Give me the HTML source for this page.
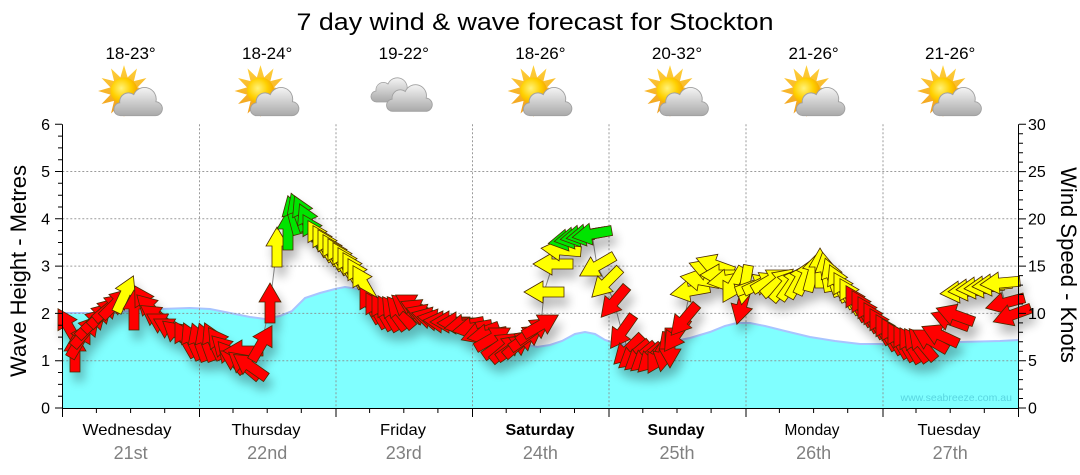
<!DOCTYPE html>
<html>
<head>
<meta charset="utf-8">
<style>
html,body{margin:0;padding:0;background:#fff;}
svg{display:block;font-family:"Liberation Sans",Arial,sans-serif;}
.r{fill:#ff0000;}
.y{fill:#ffff00;}
.g{fill:#00e400;}
</style>
</head>
<body>
<svg width="1080" height="475" viewBox="0 0 1080 475" xmlns="http://www.w3.org/2000/svg">
<defs>
  <polygon id="a" points="0,-20 11,-1 5,-1 5,20 -5,20 -5,-1 -11,-1"/>
  <radialGradient id="sunG" cx="0.4" cy="0.4" r="0.6">
    <stop offset="0" stop-color="#fff27a"/>
    <stop offset="0.6" stop-color="#ffd000"/>
    <stop offset="1" stop-color="#f5a800"/>
  </radialGradient>
  <linearGradient id="rayG" x1="0" y1="0" x2="0" y2="1">
    <stop offset="0" stop-color="#ffd23a"/>
    <stop offset="1" stop-color="#f09a1a"/>
  </linearGradient>
  <linearGradient id="cloudG" x1="0" y1="0" x2="0" y2="1">
    <stop offset="0" stop-color="#f4f4f4"/>
    <stop offset="1" stop-color="#a9a9a9"/>
  </linearGradient>
  <g id="sun">
    <polygon fill="url(#rayG)" points="0,-24 3.36,-12.56 12,-20.78 9.19,-9.19 20.78,-12 12.56,-3.36 24,0 12.56,3.36 20.78,12 9.19,9.19 12,20.78 3.36,12.56 0,24 -3.36,12.56 -12,20.78 -9.19,9.19 -20.78,12 -12.56,3.36 -24,0 -12.56,-3.36 -20.78,-12 -9.19,-9.19 -12,-20.78 -3.36,-12.56"/>
    <circle r="12.5" fill="url(#sunG)"/>
  </g>
  <path id="cloud" d="M2,23 H31 A6,6 0 0 0 32,11 A10,10 0 0 0 13,5 A7.5,7.5 0 0 0 1,12 A5.5,5.5 0 0 0 2,23 Z" fill="url(#cloudG)" stroke="#a0a0a0" stroke-width="0.8"/>
  <g id="sc">
    <use href="#sun"/>
    <use href="#cloud" transform="translate(-5,-2) scale(1.08)"/>
  </g>
  <filter id="sh" x="-10%" y="-20%" width="120%" height="150%">
    <feGaussianBlur in="SourceAlpha" stdDeviation="5"/>
    <feOffset dx="4" dy="9"/>
    <feComponentTransfer><feFuncA type="linear" slope="0.28"/></feComponentTransfer>
    <feMerge><feMergeNode/><feMergeNode in="SourceGraphic"/></feMerge>
  </filter>
</defs>

<!-- Title -->
<text x="535" y="30" font-size="24" text-anchor="middle" textLength="477" lengthAdjust="spacingAndGlyphs" fill="#000">7 day wind &amp; wave forecast for Stockton</text>

<!-- Temps -->
<g font-size="17" text-anchor="middle" fill="#000">
  <text x="130.6" y="59">18-23°</text>
  <text x="267.2" y="59">18-24°</text>
  <text x="403.8" y="59">19-22°</text>
  <text x="540.4" y="59">18-26°</text>
  <text x="677" y="59">20-32°</text>
  <text x="813.6" y="59">21-26°</text>
  <text x="950.2" y="59">21-26°</text>
</g>

<!-- Icons -->
<use href="#sc" transform="translate(124,91) scale(1.08)"/>
<use href="#sc" transform="translate(260.5,91) scale(1.08)"/>
<use href="#cloud" transform="translate(375,79) scale(1.0)"/>
<use href="#cloud" transform="translate(391,86) scale(1.1)"/>
<use href="#sc" transform="translate(533.5,91) scale(1.08)"/>
<use href="#sc" transform="translate(670,91) scale(1.08)"/>
<use href="#sc" transform="translate(806.5,91) scale(1.08)"/>
<use href="#sc" transform="translate(943,91) scale(1.08)"/>

<!-- Wave fill -->
<path d="M62.3,408 L62.3,313 L80,313 L100,313 L130,311 L160,309 L190,308 L210,309 L230,313 L250,317 L265,319 L280,316 L292,311 L305,298 L320,293 L335,289 L345,287 L358,289 L370,295 L385,302 L400,306 L420,312 L440,319 L460,325 L480,331 L500,337 L520,343 L537,347 L550,345 L562,341 L575,334 L585,332 L595,334 L605,340 L617,344 L630,345 L650,344 L670,342 L690,338 L710,332 L725,326 L737,323 L750,323 L765,326 L785,331 L810,337 L835,341 L860,344 L885,344 L920,343 L960,342 L1000,341 L1018.5,340 L1018.5,408 Z" fill="#80ffff"/>
<polyline points="62.3,313 80,313 100,313 130,311 160,309 190,308 210,309 230,313 250,317 265,319 280,316 292,311 305,298 320,293 335,289 345,287 358,289 370,295 385,302 400,306 420,312 440,319 460,325 480,331 500,337 520,343 537,347 550,345 562,341 575,334 585,332 595,334 605,340 617,344 630,345 650,344 670,342 690,338 710,332 725,326 737,323 750,323 765,326 785,331 810,337 835,341 860,344 885,344 920,343 960,342 1000,341 1018.5,340" fill="none" stroke="#a8c4ff" stroke-width="2"/>

<!-- Watermark -->
<text x="1012" y="401" font-size="10.5" text-anchor="end" fill="#4cc7d6" fill-opacity="0.75">www.seabreeze.com.au</text>

<!-- Grid -->
<g stroke="#8a8a8a" stroke-width="1" stroke-dasharray="2,2" fill="none" opacity="0.85">
  <line x1="62.3" y1="360.7" x2="1018.5" y2="360.7"/>
  <line x1="62.3" y1="313.4" x2="1018.5" y2="313.4"/>
  <line x1="62.3" y1="266.1" x2="1018.5" y2="266.1"/>
  <line x1="62.3" y1="218.8" x2="1018.5" y2="218.8"/>
  <line x1="62.3" y1="171.5" x2="1018.5" y2="171.5"/>
  <line x1="199.5" y1="124.3" x2="199.5" y2="408"/>
  <line x1="336" y1="124.3" x2="336" y2="408"/>
  <line x1="472.5" y1="124.3" x2="472.5" y2="408"/>
  <line x1="609" y1="124.3" x2="609" y2="408"/>
  <line x1="746" y1="124.3" x2="746" y2="408"/>
  <line x1="883" y1="124.3" x2="883" y2="408"/>
</g>

<!-- Wind line -->
<polyline fill="none" stroke="#8a8a8a" stroke-width="1" points="68,326 75,352 80,340 86,331 92,323 98,317 104,312 110,307 116,303 125,294 134,310 145,303 151,309 157,317 164,324 171,329 178,334 185,339 192,341 199,342 206,342 213,341 220,344 226,350 231,357 237,361 243,351 244,365 250,366 262,343 270,303 277,247 288,230 293,215 298,212 303,214 308,222 313,232 318,238 323,243 328,247 333,252 338,256 343,260 348,265 353,270 358,276 363,283 370,305 376,310 382,312 388,313 394,313 400,312 407,308 413,305 419,310 425,315 431,318 437,320 443,322 450,322 457,323 464,325 472,328 480,333 487,335 493,338 500,345 507,348 514,347 520,343 527,337 534,330 541,325 544,292 553,264 561,250 568,240 574,238 580,236 586,235 592,234 597,266 606,283 614,302 622,332 628,350 634,355 640,357 646,358 652,358 658,356 664,352 670,348 676,335 684,320 690,291 700,280 708,270 715,265 720,275 727,280 733,285 742,305 745,285 755,285 762,283 770,280 778,282 785,285 792,283 799,280 806,276 813,272 820,268 826,272 832,277 838,283 844,290 850,296 856,303 862,308 868,314 874,320 880,326 886,332 892,336 898,340 904,343 910,345 916,345 922,344 930,340 940,335 950,320 955,315 960,292 968,290 976,288 984,287 992,285 1000,283 1005,303 1012,315"/>

<!-- Arrows -->
<g filter="url(#sh)" stroke="#4a2a00" stroke-width="0.8" stroke-linejoin="miter">
<use href="#a" class="r" transform="translate(68,326) rotate(-30)"/>
<use href="#a" class="r" transform="translate(75,352) rotate(0)"/>
<use href="#a" class="r" transform="translate(80,340) rotate(30)"/>
<use href="#a" class="r" transform="translate(86,331) rotate(40)"/>
<use href="#a" class="r" transform="translate(92,323) rotate(45)"/>
<use href="#a" class="r" transform="translate(98,317) rotate(45)"/>
<use href="#a" class="r" transform="translate(104,312) rotate(45)"/>
<use href="#a" class="r" transform="translate(110,307) rotate(50)"/>
<use href="#a" class="r" transform="translate(116,303) rotate(45)"/>
<use href="#a" class="y" transform="translate(125,294) rotate(25)"/>
<use href="#a" class="r" transform="translate(134,310) rotate(0)"/>
<use href="#a" class="r" transform="translate(145,303) rotate(-31)"/>
<use href="#a" class="r" transform="translate(151,309) rotate(-45)"/>
<use href="#a" class="r" transform="translate(157,317) rotate(-55)"/>
<use href="#a" class="r" transform="translate(164,324) rotate(-60)"/>
<use href="#a" class="r" transform="translate(171,329) rotate(-60)"/>
<use href="#a" class="r" transform="translate(178,334) rotate(-50)"/>
<use href="#a" class="r" transform="translate(185,339) rotate(-30)"/>
<use href="#a" class="r" transform="translate(192,341) rotate(-25)"/>
<use href="#a" class="r" transform="translate(199,342) rotate(-20)"/>
<use href="#a" class="r" transform="translate(206,342) rotate(-20)"/>
<use href="#a" class="r" transform="translate(213,341) rotate(-25)"/>
<use href="#a" class="r" transform="translate(220,344) rotate(-35)"/>
<use href="#a" class="r" transform="translate(226,350) rotate(-45)"/>
<use href="#a" class="r" transform="translate(231,357) rotate(-40)"/>
<use href="#a" class="r" transform="translate(237,361) rotate(-60)"/>
<use href="#a" class="r" transform="translate(243,351) rotate(-90)"/>
<use href="#a" class="r" transform="translate(244,365) rotate(-50)"/>
<use href="#a" class="r" transform="translate(250,366) rotate(-55)"/>
<use href="#a" class="r" transform="translate(262,343) rotate(30)"/>
<use href="#a" class="r" transform="translate(270,303) rotate(0)"/>
<use href="#a" class="y" transform="translate(277,247) rotate(0)"/>
<use href="#a" class="g" transform="translate(288,230) rotate(0)"/>
<use href="#a" class="g" transform="translate(293,215) rotate(-15)"/>
<use href="#a" class="g" transform="translate(298,212) rotate(-20)"/>
<use href="#a" class="g" transform="translate(303,214) rotate(-25)"/>
<use href="#a" class="g" transform="translate(308,222) rotate(-25)"/>
<use href="#a" class="g" transform="translate(313,232) rotate(-30)"/>
<use href="#a" class="y" transform="translate(318,238) rotate(-30)"/>
<use href="#a" class="y" transform="translate(323,243) rotate(-30)"/>
<use href="#a" class="y" transform="translate(328,247) rotate(-30)"/>
<use href="#a" class="y" transform="translate(333,252) rotate(-30)"/>
<use href="#a" class="y" transform="translate(338,256) rotate(-30)"/>
<use href="#a" class="y" transform="translate(343,260) rotate(-30)"/>
<use href="#a" class="y" transform="translate(348,265) rotate(-30)"/>
<use href="#a" class="y" transform="translate(353,270) rotate(-30)"/>
<use href="#a" class="y" transform="translate(358,276) rotate(-30)"/>
<use href="#a" class="y" transform="translate(363,283) rotate(-30)"/>
<use href="#a" class="r" transform="translate(370,305) rotate(-30)"/>
<use href="#a" class="r" transform="translate(376,310) rotate(-30)"/>
<use href="#a" class="r" transform="translate(382,312) rotate(-30)"/>
<use href="#a" class="r" transform="translate(388,313) rotate(-30)"/>
<use href="#a" class="r" transform="translate(394,313) rotate(-35)"/>
<use href="#a" class="r" transform="translate(400,312) rotate(-40)"/>
<use href="#a" class="r" transform="translate(407,308) rotate(-50)"/>
<use href="#a" class="r" transform="translate(413,305) rotate(-60)"/>
<use href="#a" class="r" transform="translate(419,310) rotate(-65)"/>
<use href="#a" class="r" transform="translate(425,315) rotate(-70)"/>
<use href="#a" class="r" transform="translate(431,318) rotate(-75)"/>
<use href="#a" class="r" transform="translate(437,320) rotate(-80)"/>
<use href="#a" class="r" transform="translate(443,322) rotate(-85)"/>
<use href="#a" class="r" transform="translate(450,322) rotate(-90)"/>
<use href="#a" class="r" transform="translate(457,323) rotate(-90)"/>
<use href="#a" class="r" transform="translate(464,325) rotate(-100)"/>
<use href="#a" class="r" transform="translate(472,328) rotate(-100)"/>
<use href="#a" class="r" transform="translate(480,333) rotate(-110)"/>
<use href="#a" class="r" transform="translate(487,335) rotate(-100)"/>
<use href="#a" class="r" transform="translate(493,338) rotate(60)"/>
<use href="#a" class="r" transform="translate(500,345) rotate(55)"/>
<use href="#a" class="r" transform="translate(507,348) rotate(50)"/>
<use href="#a" class="r" transform="translate(514,347) rotate(55)"/>
<use href="#a" class="r" transform="translate(520,343) rotate(50)"/>
<use href="#a" class="r" transform="translate(527,337) rotate(55)"/>
<use href="#a" class="r" transform="translate(534,330) rotate(55)"/>
<use href="#a" class="r" transform="translate(541,325) rotate(60)"/>
<use href="#a" class="y" transform="translate(544,292) rotate(-90)"/>
<use href="#a" class="y" transform="translate(553,264) rotate(-90)"/>
<use href="#a" class="y" transform="translate(561,250) rotate(-85)"/>
<use href="#a" class="g" transform="translate(568,240) rotate(-100)"/>
<use href="#a" class="g" transform="translate(574,238) rotate(-100)"/>
<use href="#a" class="g" transform="translate(580,236) rotate(-100)"/>
<use href="#a" class="g" transform="translate(586,235) rotate(-100)"/>
<use href="#a" class="g" transform="translate(592,234) rotate(-100)"/>
<use href="#a" class="y" transform="translate(597,266) rotate(-120)"/>
<use href="#a" class="y" transform="translate(606,283) rotate(-135)"/>
<use href="#a" class="r" transform="translate(614,302) rotate(-140)"/>
<use href="#a" class="r" transform="translate(622,332) rotate(-145)"/>
<use href="#a" class="r" transform="translate(628,350) rotate(-135)"/>
<use href="#a" class="r" transform="translate(634,355) rotate(-130)"/>
<use href="#a" class="r" transform="translate(640,357) rotate(-130)"/>
<use href="#a" class="r" transform="translate(646,358) rotate(-130)"/>
<use href="#a" class="r" transform="translate(652,358) rotate(-135)"/>
<use href="#a" class="r" transform="translate(658,356) rotate(-150)"/>
<use href="#a" class="r" transform="translate(664,352) rotate(-170)"/>
<use href="#a" class="r" transform="translate(670,348) rotate(180)"/>
<use href="#a" class="r" transform="translate(676,335) rotate(-145)"/>
<use href="#a" class="r" transform="translate(684,320) rotate(-140)"/>
<use href="#a" class="y" transform="translate(690,291) rotate(-100)"/>
<use href="#a" class="y" transform="translate(700,280) rotate(-80)"/>
<use href="#a" class="y" transform="translate(708,270) rotate(-70)"/>
<use href="#a" class="y" transform="translate(715,265) rotate(-70)"/>
<use href="#a" class="y" transform="translate(720,275) rotate(-90)"/>
<use href="#a" class="y" transform="translate(727,280) rotate(-100)"/>
<use href="#a" class="y" transform="translate(733,285) rotate(-150)"/>
<use href="#a" class="r" transform="translate(742,305) rotate(-165)"/>
<use href="#a" class="y" transform="translate(745,285) rotate(-170)"/>
<use href="#a" class="y" transform="translate(755,285) rotate(70)"/>
<use href="#a" class="y" transform="translate(762,283) rotate(65)"/>
<use href="#a" class="y" transform="translate(770,280) rotate(60)"/>
<use href="#a" class="y" transform="translate(778,282) rotate(50)"/>
<use href="#a" class="y" transform="translate(785,285) rotate(40)"/>
<use href="#a" class="y" transform="translate(792,283) rotate(35)"/>
<use href="#a" class="y" transform="translate(799,280) rotate(30)"/>
<use href="#a" class="y" transform="translate(806,276) rotate(25)"/>
<use href="#a" class="y" transform="translate(813,272) rotate(15)"/>
<use href="#a" class="y" transform="translate(820,268) rotate(0)"/>
<use href="#a" class="y" transform="translate(826,272) rotate(-10)"/>
<use href="#a" class="y" transform="translate(832,277) rotate(-20)"/>
<use href="#a" class="y" transform="translate(838,283) rotate(-25)"/>
<use href="#a" class="y" transform="translate(844,290) rotate(-30)"/>
<use href="#a" class="y" transform="translate(850,296) rotate(-30)"/>
<use href="#a" class="r" transform="translate(856,303) rotate(-30)"/>
<use href="#a" class="r" transform="translate(862,308) rotate(-30)"/>
<use href="#a" class="r" transform="translate(868,314) rotate(-30)"/>
<use href="#a" class="r" transform="translate(874,320) rotate(-30)"/>
<use href="#a" class="r" transform="translate(880,326) rotate(-30)"/>
<use href="#a" class="r" transform="translate(886,332) rotate(-30)"/>
<use href="#a" class="r" transform="translate(892,336) rotate(-30)"/>
<use href="#a" class="r" transform="translate(898,340) rotate(-30)"/>
<use href="#a" class="r" transform="translate(904,343) rotate(-30)"/>
<use href="#a" class="r" transform="translate(910,345) rotate(-30)"/>
<use href="#a" class="r" transform="translate(916,345) rotate(-35)"/>
<use href="#a" class="r" transform="translate(922,344) rotate(-40)"/>
<use href="#a" class="r" transform="translate(930,340) rotate(-60)"/>
<use href="#a" class="r" transform="translate(940,335) rotate(-65)"/>
<use href="#a" class="r" transform="translate(950,320) rotate(-70)"/>
<use href="#a" class="r" transform="translate(955,315) rotate(-70)"/>
<use href="#a" class="y" transform="translate(960,292) rotate(-95)"/>
<use href="#a" class="y" transform="translate(968,290) rotate(-95)"/>
<use href="#a" class="y" transform="translate(976,288) rotate(-95)"/>
<use href="#a" class="y" transform="translate(984,287) rotate(-95)"/>
<use href="#a" class="y" transform="translate(992,285) rotate(-95)"/>
<use href="#a" class="y" transform="translate(1000,283) rotate(-95)"/>
<use href="#a" class="r" transform="translate(1005,303) rotate(-105)"/>
<use href="#a" class="r" transform="translate(1012,315) rotate(-110)"/>
</g>

<!-- Axes -->
<g stroke="#000" stroke-width="1" fill="none">
  <line x1="62.5" y1="124.3" x2="62.5" y2="408.5"/>
  <line x1="1018.5" y1="124.3" x2="1018.5" y2="408.5"/>
  <line x1="62.3" y1="408.5" x2="1018.5" y2="408.5"/>
  <path d="M55,408H62 M58,396.2H62 M58,384.4H62 M58,372.5H62 M55,360.7H62 M58,348.9H62 M58,337.1H62 M58,325.2H62 M55,313.4H62 M58,301.6H62 M58,289.8H62 M58,277.9H62 M55,266.1H62 M58,254.3H62 M58,242.5H62 M58,230.6H62 M55,218.8H62 M58,207H62 M58,195.2H62 M58,183.3H62 M55,171.5H62 M58,159.7H62 M58,147.9H62 M58,136.1H62 M55,124.3H62"/>
  <path d="M1019,408H1026 M1019,398.5H1023 M1019,389.1H1023 M1019,379.6H1023 M1019,370.2H1023 M1019,360.7H1026 M1019,351.3H1023 M1019,341.8H1023 M1019,332.3H1023 M1019,322.9H1023 M1019,313.4H1026 M1019,304H1023 M1019,294.5H1023 M1019,285.1H1023 M1019,275.6H1023 M1019,266.1H1026 M1019,256.7H1023 M1019,247.2H1023 M1019,237.8H1023 M1019,228.3H1023 M1019,218.9H1026 M1019,209.4H1023 M1019,199.9H1023 M1019,190.5H1023 M1019,181H1023 M1019,171.6H1026 M1019,162.1H1023 M1019,152.7H1023 M1019,143.2H1023 M1019,133.7H1023 M1019,124.3H1026"/>
  <path d="M62.5,408V417 M96.4,408V413 M130.6,408V413 M164.7,408V413 M199.5,408V417 M233,408V413 M267.2,408V413 M301.3,408V413 M336,408V417 M369.6,408V413 M403.8,408V413 M437.9,408V413 M472.5,408V417 M506.2,408V413 M540.4,408V413 M574.5,408V413 M609,408V417 M642.8,408V413 M677,408V413 M711.1,408V413 M746,408V417 M779.4,408V413 M813.6,408V413 M847.7,408V413 M883,408V417 M916,408V413 M950.2,408V413 M984.3,408V413 M1018.5,408V417"/>
</g>

<!-- Left tick labels -->
<g font-size="16" text-anchor="end" fill="#000">
  <text x="50" y="413.5">0</text>
  <text x="50" y="366.2">1</text>
  <text x="50" y="318.9">2</text>
  <text x="50" y="271.6">3</text>
  <text x="50" y="224.3">4</text>
  <text x="50" y="177">5</text>
  <text x="50" y="129.8">6</text>
</g>
<!-- Right tick labels -->
<g font-size="16" text-anchor="start" fill="#000">
  <text x="1028" y="413.5">0</text>
  <text x="1028" y="366.2">5</text>
  <text x="1028" y="318.9">10</text>
  <text x="1028" y="271.6">15</text>
  <text x="1028" y="224.3">20</text>
  <text x="1028" y="177">25</text>
  <text x="1028" y="129.8">30</text>
</g>

<!-- Axis titles -->
<text transform="translate(26,271) rotate(-90)" font-size="22" text-anchor="middle" fill="#000">Wave Height - Metres</text>
<text transform="translate(1061,265) rotate(90)" font-size="22" text-anchor="middle" fill="#000">Wind Speed - Knots</text>

<!-- Day labels -->
<g font-size="16" text-anchor="middle" fill="#000" lengthAdjust="spacingAndGlyphs">
  <text x="127" y="435" textLength="89" lengthAdjust="spacingAndGlyphs">Wednesday</text>
  <text x="266" y="435" textLength="69" lengthAdjust="spacingAndGlyphs">Thursday</text>
  <text x="403" y="435" textLength="46" lengthAdjust="spacingAndGlyphs">Friday</text>
  <text x="540" y="435" font-weight="bold" textLength="69" lengthAdjust="spacingAndGlyphs">Saturday</text>
  <text x="676" y="435" font-weight="bold" textLength="57" lengthAdjust="spacingAndGlyphs">Sunday</text>
  <text x="812" y="435" textLength="55" lengthAdjust="spacingAndGlyphs">Monday</text>
  <text x="949" y="435" textLength="63" lengthAdjust="spacingAndGlyphs">Tuesday</text>
</g>
<g font-size="18" text-anchor="middle" fill="#808080">
  <text x="130.6" y="459">21st</text>
  <text x="267.2" y="459">22nd</text>
  <text x="403.8" y="459">23rd</text>
  <text x="540.4" y="459">24th</text>
  <text x="677" y="459">25th</text>
  <text x="813.6" y="459">26th</text>
  <text x="950.2" y="459">27th</text>
</g>
</svg>
</body>
</html>
